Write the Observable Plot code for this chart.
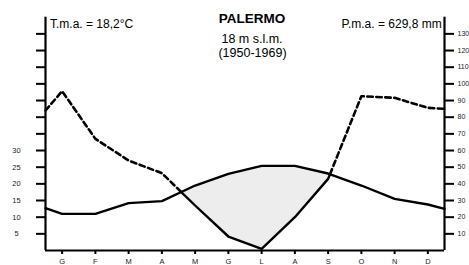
<!DOCTYPE html>
<html>
<head>
<meta charset="utf-8">
<script src="https://cdn.jsdelivr.net/npm/d3@7"></script>
<script src="https://cdn.jsdelivr.net/npm/@observablehq/plot@0.6"></script>
<style>
  html, body { margin: 0; padding: 0; background: #fff; }
  #chart { width: 469px; height: 265px; overflow: hidden; }
</style>
</head>
<body>
<div id="chart"></div>
<script>
// Month labels (Italian initials)
const months = ["G","F","M","A","M","G","L","A","S","O","N","D"];
// Monthly mean temperature (°C)
const temperature = [11.0, 11.0, 14.2, 14.8, 19.5, 23.0, 25.4, 25.4, 23.1, 19.5, 15.5, 13.8];
// Monthly precipitation (mm)
const precipitation = [95.6, 67, 54, 46.4, 27, 8.4, 1, 20, 43, 92.6, 91.6, 85.6];
// Values read where the curves meet the left / right axes
const temperatureEdges = [12.7, 12.5];
const precipitationEdges = [84, 85];
// Axis ticks
const leftTicks = [10,20,30,40,50,60,70,80,90,100,110,120,130];   // precipitation units (2 × °C)
const leftLabels = [5,10,15,20,25,30];                              // °C labels shown
const rightTicks = [10,20,30,40,50,60,70,80,90,100,110,120,130];  // mm
const xDomain = [0.5, 12.5];
const yDomain = [0, 140];

// Build series (temperature drawn on the precipitation scale, 1 °C = 2 mm)
const pts = [{x: xDomain[0], t: temperatureEdges[0], p: precipitationEdges[0]}]
  .concat(months.map((m, i) => ({x: i + 1, t: temperature[i], p: precipitation[i]})))
  .concat([{x: xDomain[1], t: temperatureEdges[1], p: precipitationEdges[1]}]);

// Find the crossings of precipitation with 2 × temperature
const crossings = [];
for (let i = 0; i < pts.length - 1; i++) {
  const a = pts[i], b = pts[i + 1];
  const da = a.p - 2 * a.t, db = b.p - 2 * b.t;
  if (da * db < 0) {
    const f = da / (da - db);
    crossings.push({x: a.x + f * (b.x - a.x), t: a.t + f * (b.t - a.t), p: a.p + f * (b.p - a.p), i});
  }
}
const c1 = crossings[0], c2 = crossings[1];
const dry = [c1].concat(pts.slice(c1.i + 1, c2.i + 1)).concat([c2]);
const wet1 = pts.slice(0, c1.i + 1).concat([c1]);
const wet2 = [c2].concat(pts.slice(c2.i + 1));

const font = "Liberation Sans, Arial, Helvetica, sans-serif";

const chart = Plot.plot({
  width: 469,
  height: 265,
  marginLeft: 45,
  marginRight: 25,
  marginTop: 16.7,
  marginBottom: 15,
  style: {fontFamily: font, background: "#fff", overflow: "visible"},
  x: {domain: xDomain, axis: null},
  y: {domain: yDomain, axis: null},
  marks: [
    Plot.areaY(dry, {x: "x", y1: "p", y2: d => 2 * d.t, fill: "#ededed"}),
    Plot.lineY(pts, {x: "x", y: d => 2 * d.t, stroke: "#000", strokeWidth: 2.4}),
    Plot.lineY(wet1, {x: "x", y: "p", stroke: "#000", strokeWidth: 2.6, strokeDasharray: "5.5,3.5"}),
    Plot.lineY(dry, {x: "x", y: "p", stroke: "#000", strokeWidth: 2.4}),
    Plot.lineY(wet2, {x: "x", y: "p", stroke: "#000", strokeWidth: 2.6, strokeDasharray: "5.5,3.5"}),
    // axis lines
    Plot.ruleX(xDomain, {stroke: "#000", strokeWidth: 2.2}),
    Plot.ruleY([yDomain[0]], {stroke: "#000", strokeWidth: 2.2}),
    // left axis (temperature): ticks, then labels
    Plot.axisY({anchor: "left", ticks: leftTicks, tickSize: 9, strokeWidth: 2, tickFormat: () => "", label: null}),
    Plot.axisY({anchor: "left", ticks: leftLabels.map(v => v * 2), tickSize: 0, tickPadding: 29,
      tickFormat: d => String(d / 2), textAnchor: "middle", fontSize: 7.5, fill: "#222", label: null}),
    // right axis (precipitation)
    Plot.axisY({anchor: "right", ticks: rightTicks, tickSize: 9, tickPadding: 4, strokeWidth: 2,
      fontSize: 7, fill: "#222", label: null}),
    // bottom axis (months)
    Plot.axisX({anchor: "bottom", ticks: months.map((m, i) => i + 1), tickSize: 4, tickPadding: 4, strokeWidth: 2,
      tickFormat: d => months[d - 1], fontSize: 7.5, fill: "#222", label: null}),
    // annotations
    Plot.text(["T.m.a. = 18,2°C"], {frameAnchor: "top-left", textAnchor: "start", lineAnchor: "top", dx: 4.5, dy: 2.5, fontSize: 12, fill: "#000"}),
    Plot.text(["P.m.a. = 629,8 mm"], {frameAnchor: "top-right", textAnchor: "start", lineAnchor: "top", dx: -103, dy: 2.5, fontSize: 12, fill: "#000"}),
    Plot.text(["PALERMO"], {frameAnchor: "top", lineAnchor: "top", dx: 7, dy: -3.4, fontSize: 13.5, fontWeight: "bold", fill: "#000"}),
    Plot.text(["18 m s.l.m."], {frameAnchor: "top", lineAnchor: "top", dx: 7, dy: 16.6, fontSize: 12.5, fill: "#000"}),
    Plot.text(["(1950-1969)"], {frameAnchor: "top", lineAnchor: "top", dx: 7.5, dy: 31, fontSize: 12.5, fill: "#000"})
  ]
});
document.getElementById("chart").appendChild(chart);
</script>
</body>
</html>
